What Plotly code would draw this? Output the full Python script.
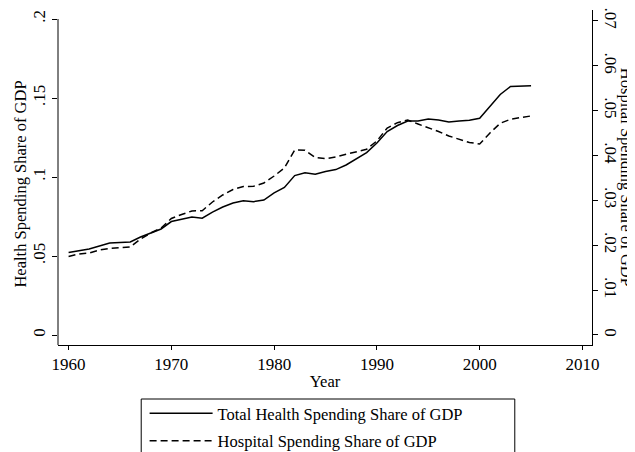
import plotly.graph_objects as go

years = list(range(1960, 2006))
total_health = [0.0522, 0.0535, 0.0544, 0.0563, 0.0582, 0.0585, 0.0589, 0.0620, 0.0646, 0.0671,
                0.0718, 0.0734, 0.0747, 0.0739, 0.0778, 0.0810, 0.0835, 0.0850, 0.0844, 0.0854,
                0.0899, 0.0934, 0.1009, 0.1027, 0.1017, 0.1035, 0.1047, 0.1076, 0.1114, 0.1154,
                0.1215, 0.1288, 0.1326, 0.1354, 0.1354, 0.1367, 0.1361, 0.1348, 0.1354, 0.1359,
                0.1372, 0.1449, 0.1522, 0.1573, 0.1576, 0.1578]
hospital = [0.01748, 0.01804, 0.01826, 0.01893, 0.01927, 0.01938, 0.01960, 0.02138, 0.02272, 0.02383,
            0.02595, 0.02684, 0.02762, 0.02768, 0.02962, 0.03118, 0.03241, 0.03307, 0.03312, 0.03385,
            0.03541, 0.03719, 0.04120, 0.04116, 0.03953, 0.03927, 0.03964, 0.04024, 0.04087, 0.04136,
            0.04321, 0.04610, 0.04728, 0.04788, 0.04699, 0.04617, 0.04532, 0.04432, 0.04354, 0.04287,
            0.04254, 0.04499, 0.04715, 0.04804, 0.04844, 0.04878]

x_ticks = [1960, 1970, 1980, 1990, 2000, 2010]
x_ticklabels = ["1960", "1970", "1980", "1990", "2000", "2010"]
left_ticks = [0, 0.05, 0.1, 0.15, 0.2]
left_ticklabels = ["0", ".05", ".1", ".15", ".2"]
right_ticks = [0, 0.01, 0.02, 0.03, 0.04, 0.05, 0.06, 0.07]
right_ticklabels = ["0", ".01", ".02", ".03", ".04", ".05", ".06", ".07"]

FONT = "Liberation Serif"

fig = go.Figure()
fig.add_trace(go.Scatter(x=years, y=total_health, mode="lines", name="Total Health Spending Share of GDP",
                         legendgroup="a",
                         line=dict(color="black", width=1.5), yaxis="y"))
fig.add_trace(go.Scatter(x=years, y=hospital, mode="lines", name="Hospital Spending Share of GDP",
                         legendgroup="b",
                         line=dict(color="black", width=1.5, dash="7px,4px"), yaxis="y2"))

LEFT_RANGE = [-0.00633, 0.2057]
RIGHT_RANGE = [-0.00223, 0.07238]

W, H = 627, 444
ML, MR, MT, MB = 49.7, 42.7, 2, 107
PW = W - ML - MR
PH = H - MT - MB


def px_x(x):
    return (x - ML) / PW


def px_y(y):
    return (H - MB - y) / PH


fig.update_layout(
    width=W, height=H,
    margin=dict(l=ML, r=MR, t=MT, b=MB, autoexpand=False),
    paper_bgcolor="white", plot_bgcolor="white",
    font=dict(family=FONT, size=16, color="black"),
    showlegend=True,
    legend=dict(orientation="v", x=px_x(136.4), xanchor="left", y=px_y(388), yanchor="top",
                borderwidth=0, font=dict(family=FONT, size=16.5), itemwidth=63,
                bgcolor="rgba(0,0,0,0)", tracegroupgap=3),
    xaxis=dict(range=[1958.97, 2010.93], tickvals=x_ticks, ticktext=x_ticklabels,
               showline=True, linecolor="black", linewidth=1, ticks="outside", ticklen=4,
               tickcolor="black", showgrid=False, zeroline=False, mirror=False, automargin=False,
               tickfont=dict(family=FONT, size=17), ticklabeloverflow="allow",
               title=dict(text="Year", font=dict(family=FONT, size=16.5), standoff=2)),
    yaxis=dict(range=LEFT_RANGE, tickvals=left_ticks, ticktext=left_ticklabels, tickangle=-90,
               showline=False, ticks="outside", ticklen=5, tickcolor="black", automargin=False,
               tickfont=dict(family=FONT, size=17), ticklabeloverflow="allow",
               showgrid=False, zeroline=False),
    yaxis2=dict(range=RIGHT_RANGE, tickvals=right_ticks, ticktext=right_ticklabels, tickangle=90,
                overlaying="y", side="right", showline=True, linecolor="black", linewidth=1,
                automargin=False, tickfont=dict(family=FONT, size=17), ticklabeloverflow="allow",
                ticks="outside", ticklen=5, tickcolor="black", showgrid=False, zeroline=False),
)

# left axis line from bottom of plot region to .2
fig.add_shape(type="line", xref="paper", yref="y", x0=0, x1=0, y0=LEFT_RANGE[0], y1=0.2,
              line=dict(color="black", width=1))

# legend frame (extends past the bottom edge, as in the reference)
fig.add_shape(type="rect", xref="paper", yref="paper",
              x0=px_x(133), x1=px_x(507), y0=px_y(470), y1=px_y(391),
              line=dict(color="black", width=1), fillcolor="rgba(0,0,0,0)")

fig.add_annotation(text="Health Spending Share of GDP", xref="paper", yref="paper",
                   x=px_x(12), y=0.48, textangle=-90, showarrow=False,
                   font=dict(family=FONT, size=16.5), xanchor="center", yanchor="middle")
fig.add_annotation(text="Hospital Spending Share of GDP", xref="paper", yref="paper",
                   x=px_x(619), y=0.5, textangle=90, showarrow=False,
                   font=dict(family=FONT, size=16.5), xanchor="center", yanchor="middle")

fig.write_html("out.html")
